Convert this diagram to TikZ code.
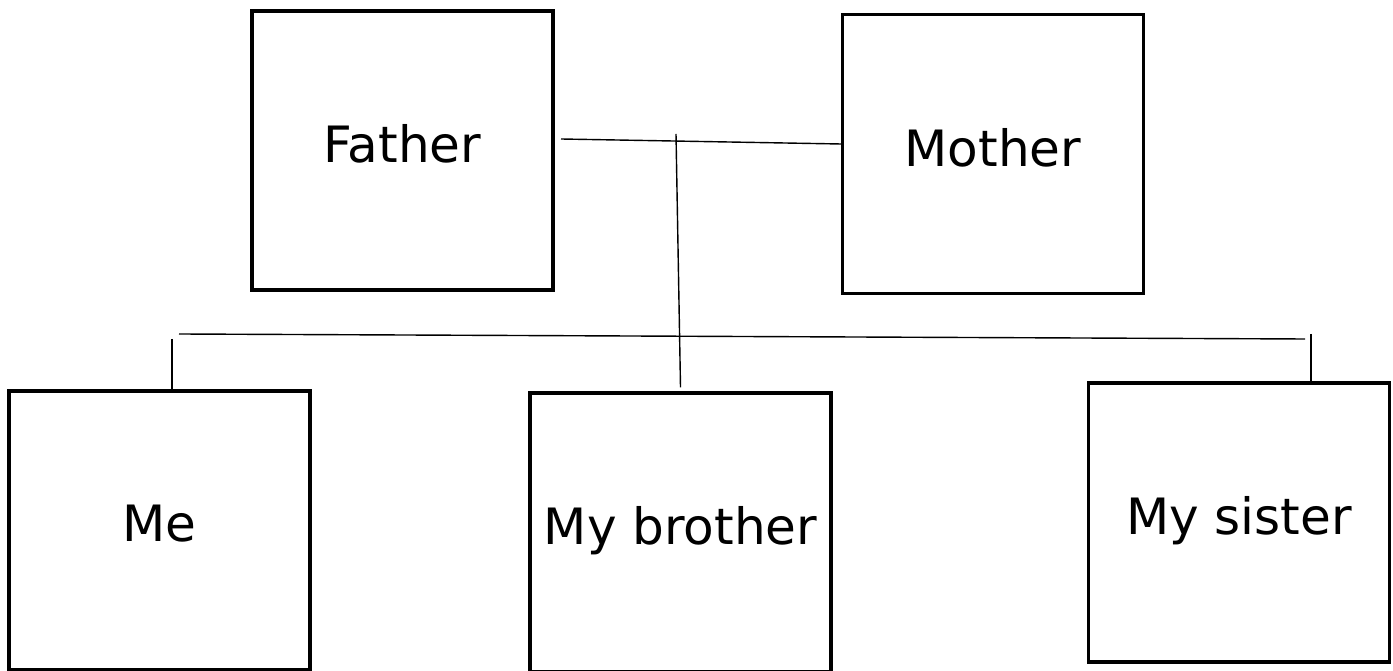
\documentclass[tikz,border=0pt]{standalone}
\usepackage{fontspec}
\setmainfont{DejaVu Sans}
\usepackage{tikz}
\usetikzlibrary{calc}
\tikzset{
  person/.style={draw=black,line width=2pt,minimum width=6.02cm,minimum height=5.58cm,
    inner sep=0pt,text depth=0.28cm,font=\fontsize{28.5}{34}\selectfont,align=center},
  link/.style={draw=black,line width=0.8pt},
}
\begin{document}
\begin{tikzpicture}[x=0.02cm,y=-0.02cm]
\useasboundingbox (0,0) rectangle (1393,671);
\clip (0,0) rectangle (1393,671);
% parents
\node[person] (father) at (402.5,150.5) {Father};
\node[person] (mother) at (993,154) {Mother};
% children
\node[person] (me) at (159.5,530.5) {Me};
\node[person] (brother) at (680.5,532.5) {My brother};
\node[person] (sister) at (1239,522.5) {My sister};
% connectors
\coordinate (marriage) at (561,139);
\draw[link] (marriage) -- ($(mother.west)+(0,-10)$);
\coordinate (stem) at (676,134);
\draw[link] (stem) -- ($(brother.north)+(0,-4)$);
\coordinate (bar l) at (179,334);
\coordinate (bar r) at (1305,339);
\draw[link] (bar l) -- (bar r);
\coordinate (me drop) at (172,339);
\draw[link] (me drop) -- (me drop |- me.north);
\coordinate (sis drop) at (1311,334);
\draw[link] (sis drop) -- (sis drop |- sister.north);
\end{tikzpicture}
\end{document}
